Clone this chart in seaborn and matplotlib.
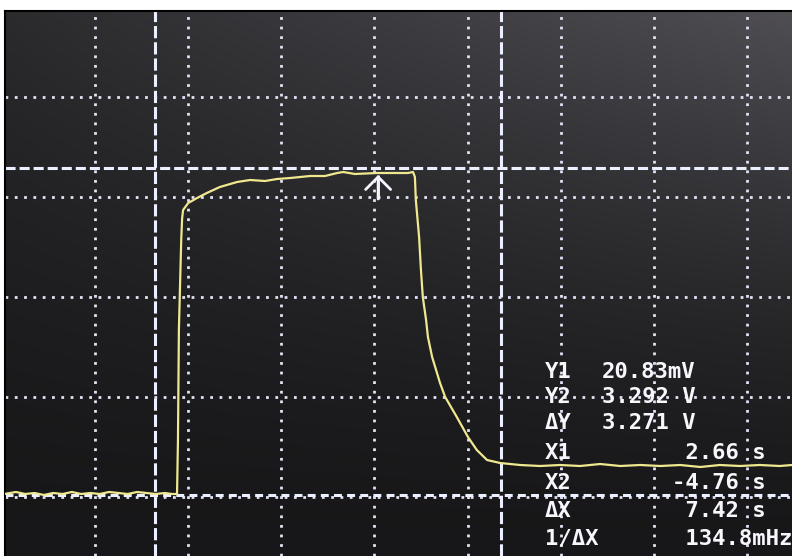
import numpy as np
import matplotlib
matplotlib.use("Agg")
import matplotlib.pyplot as plt
import seaborn as sns

# ---------------- data ----------------
# trace: time (s, 2 s/div) and voltage (V, 1 V/div)
time_s = [-1.95, -1.70, -1.50, -1.30, -1.10, -0.90, -0.70, -0.50, -0.30, -0.10,
          0.10, 0.30, 0.50, 0.70, 0.90, 1.10, 1.30, 1.50, 1.65, 1.74,
          1.76, 1.78, 1.80, 1.85, 1.87,
          1.89, 2.00, 2.19, 2.40, 2.68, 3.05, 3.33, 3.65, 3.91, 4.19,
          4.62, 4.94, 5.20, 5.33, 5.58, 6.06, 6.44, 6.72, 6.83, 6.87,
          6.89, 6.96, 7.00, 7.04, 7.11, 7.15, 7.24, 7.41, 7.52, 7.77,
          8.01, 8.20, 8.42, 8.70, 9.13,
          9.56, 9.99, 10.42, 10.85, 11.28, 11.71, 12.14, 12.57, 13.00, 13.42,
          13.85, 14.28, 14.71, 14.97]
volts = [0.03, 0.05, 0.03, 0.04, 0.02, 0.04, 0.03, 0.05, 0.03, 0.04,
         0.03, 0.05, 0.04, 0.03, 0.05, 0.04, 0.03, 0.04, 0.03, 0.03,
         0.03, 0.57, 1.67, 2.57, 2.79,
         2.87, 2.94, 2.99, 3.04, 3.10, 3.15, 3.17, 3.16, 3.18, 3.19,
         3.21, 3.21, 3.24, 3.25, 3.23, 3.24, 3.24, 3.24, 3.25, 3.20,
         2.97, 2.60, 2.27, 2.00, 1.77, 1.60, 1.40, 1.14, 1.00, 0.80,
         0.60, 0.47, 0.37, 0.34, 0.32,
         0.31, 0.32, 0.31, 0.33, 0.31, 0.32, 0.31, 0.32, 0.30, 0.32,
         0.31, 0.32, 0.31, 0.32]

grid_times = [0, 2, 4, 6, 8, 10, 12, 14]
grid_volts = [0, 1, 2, 3, 4]

cursor_x1 = 1.29
cursor_x2 = 8.72
cursor_y1 = 0.02083
cursor_y2 = 3.292

marker_time = 6.08
marker_tail = 2.98
marker_tip = 3.22

readout_labels = ["Y1", "Y2", "ΔY", "X1", "X2", "ΔX", "1/ΔX"]
readout_values = ["20.83mV", "3.292 V", "3.271 V", "2.66 s", "-4.76 s", "7.42 s", "134.8mHz"]

# ---------------- styling ----------------
sns.set_style("dark")
plt.rcParams["font.family"] = ["DejaVu Sans Mono", "DejaVu Sans"]

W, H = 792, 556
fig = plt.figure(figsize=(W / 100, H / 100), dpi=100, facecolor="white")
ax = fig.add_axes([5 / W, 0, 787 / W, 545 / H])

xlim = (-1.9356, 14.971)
ylim = (-0.59, 4.86)
ax.set_xlim(*xlim)
ax.set_ylim(*ylim)

# screen background (slightly uneven illumination of the photo)
yy = np.linspace(0, 1, 80)[:, None]
xx = np.linspace(0, 1, 80)[None, :]
lum = 23 + (yy ** 1.5) * (20 + 36 * xx)
rgb = np.clip(np.stack([lum, lum * 0.98, lum * 1.05], axis=-1) / 255, 0, 1)
ax.imshow(rgb, extent=[xlim[0], xlim[1], ylim[0], ylim[1]], origin="lower",
          aspect="auto", zorder=0, interpolation="bilinear")

grid_col = "#e2e2f6"
for t in grid_times:
    ax.axvline(t, color=grid_col, lw=2.0, linestyle=(0, (1, 2.45)), zorder=1)
for v in grid_volts:
    ax.axhline(v, color=grid_col, lw=2.0, linestyle=(0, (1, 2.35)), zorder=1)

cur_col = "#eaf0ff"
ax.axvline(cursor_x1, color=cur_col, lw=2.2, linestyle=(0, (4.0, 1.3)), zorder=2)
ax.axvline(cursor_x2, color=cur_col, lw=2.2, linestyle=(0, (4.0, 1.3)), zorder=2)
ax.axhline(cursor_y2, color=cur_col, lw=2.2, linestyle=(0, (3.3, 1.3)), zorder=2)
ax.axhline(cursor_y1, color=cur_col, lw=2.2, linestyle=(0, (2.6, 1.7)), zorder=2)

sns.lineplot(x=time_s, y=volts, ax=ax, color="#efe88e", linewidth=1.6,
             sort=False, estimator=None, zorder=3)

# peak marker arrow (shaft + open head)
ax.plot([marker_time, marker_time], [marker_tail, marker_tip],
        color="#f4f4ff", lw=2.0, solid_capstyle="butt", zorder=4)
ax.annotate("", xy=(marker_time, marker_tip), xytext=(marker_time, marker_tail),
            arrowprops=dict(arrowstyle="->,head_length=0.45,head_width=0.45",
                            color="#f4f4ff", lw=2.0, mutation_scale=20,
                            shrinkA=0, shrinkB=0), zorder=4)

ax.set_xticks([])
ax.set_yticks([])
ax.set_xlabel("")
ax.set_ylabel("")
for side in ["right", "bottom"]:
    ax.spines[side].set_visible(False)
for side in ["left", "top"]:
    ax.spines[side].set_color("black")
    ax.spines[side].set_linewidth(1.5)

# cursor readout
row_y = [372, 397, 423, 453, 483, 511, 539]
txt_col = "#f6f6fc"
for i, (lab, val) in enumerate(zip(readout_labels, readout_values)):
    fy = 1 - row_y[i] / H
    fig.text(545 / W, fy, lab, color=txt_col, fontsize=16, fontweight="bold",
             va="center", ha="left", zorder=5)
    if i < 3:
        fig.text(602 / W, fy, val, color=txt_col, fontsize=16, fontweight="bold",
                 va="center", ha="left", zorder=5)
    else:
        s = val if val.startswith("-") else " " + val
        fig.text(672 / W, fy, s, color=txt_col, fontsize=16, fontweight="bold",
                 va="center", ha="left", zorder=5)

fig.savefig("out.png", dpi=100, facecolor="white")
